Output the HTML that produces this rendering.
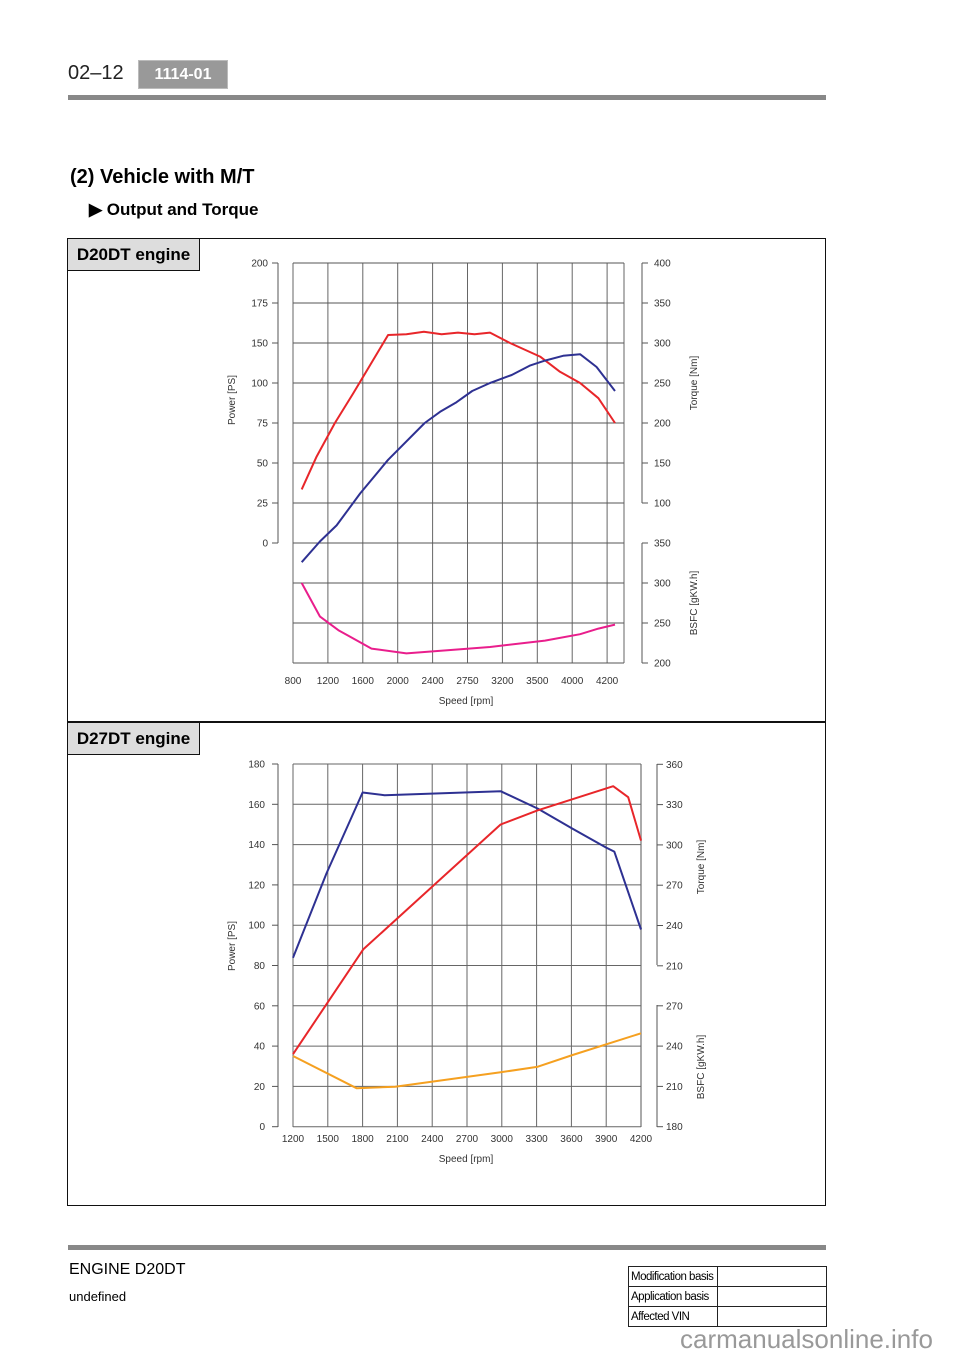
<!DOCTYPE html>
<html><head><meta charset="utf-8"><style>
body{margin:0;width:960px;height:1358px;background:#fff;position:relative;font-family:"Liberation Sans",sans-serif;overflow:hidden}
.a{position:absolute}
svg text{font-family:"Liberation Sans",sans-serif}
</style></head><body>
<div class="a" style="left:68px;top:62px;font-size:20px;color:#222">02‒12</div>
<div class="a" style="left:138px;top:60px;width:88px;height:27px;background:#999;border:1px solid #bbb;color:#fff;font-weight:bold;font-size:16px;line-height:27px;text-align:center">1114-01</div>
<div class="a" style="left:68px;top:95px;width:758px;height:5px;background:#888"></div>
<div class="a" style="left:70px;top:166px;font-size:20px;font-weight:bold">(2) Vehicle with M/T</div>
<div class="a" style="left:89px;top:200px;font-size:17px;font-weight:bold">▶ Output and Torque</div>
<div class="a" style="left:67px;top:238px;width:757px;height:966px;border:1.5px solid #111"></div>
<div class="a" style="left:67px;top:721px;width:759px;height:1.5px;background:#111"></div>
<div class="a" style="left:68px;top:239px;width:131px;height:31px;background:#ddd;border-right:1.5px solid #111;border-bottom:1.5px solid #111;font-weight:bold;font-size:17px;line-height:31px;text-align:center">D20DT engine</div>
<div class="a" style="left:68px;top:723px;width:131px;height:31px;background:#ddd;border-right:1.5px solid #111;border-bottom:1.5px solid #111;font-weight:bold;font-size:17px;line-height:31px;text-align:center">D27DT engine</div>
<div class="a" style="left:68px;top:1245px;width:758px;height:5px;background:#888"></div>
<div class="a" style="left:69px;top:1261px;font-size:16px">ENGINE D20DT</div>
<div class="a" style="left:69px;top:1289px;font-size:13px">undefined</div>
<table class="a" style="left:628px;top:1266px;width:199px;border-collapse:collapse;font-size:11.5px;letter-spacing:-0.5px">
<tr style="height:20px"><td style="border:1.5px solid #222;width:84px;padding:0 2px">Modification basis</td><td style="border:1.5px solid #222"></td></tr>
<tr style="height:20px"><td style="border:1.5px solid #222;padding:0 2px">Application basis</td><td style="border:1.5px solid #222"></td></tr>
<tr style="height:20px"><td style="border:1.5px solid #222;padding:0 2px">Affected VIN</td><td style="border:1.5px solid #222"></td></tr>
</table>
<div class="a" style="left:680px;top:1324px;font-size:26px;color:#999">carmanualsonline.info</div>
<svg id="s" class="a" style="left:0;top:0" width="960" height="1358"></svg>
<script>
// ---- D20DT data ----
const topSpeedTicks=[800,1200,1600,2000,2400,2750,3200,3500,4000,4200];
const topPowerTicks=[200,175,150,100,75,50,25,0];
const topTorqueTicks=[400,350,300,250,200,150,100];
const topBsfcTicks=[350,300,250,200];
const topTorqueRpm=[900,1070,1280,1490,1890,2100,2300,2490,2655,2840,3040,3265,3540,3825,4045,4150,4245];
const topTorqueVal=[117,158,200,237,310,311,314,311,313,311,313,300,283,264,250,231,200];
const topPowerRpm=[900,1110,1300,1570,1890,2310,2475,2640,2810,3040,3280,3440,3610,3870,4045,4140,4245];
const topPowerVal=[-12,1,11,31,52,75,82,88,95,100,105,111,114,117,118,110,95];
const topBsfcRpm=[900,1110,1320,1700,2100,3040,3610,4045,4150,4245];
const topBsfcVal=[300,258,241,218,212,220,228,236,243,248];
// ---- D27DT data ----
const botSpeedTicks=[1200,1500,1800,2100,2400,2700,3000,3300,3600,3900,4200];
const botPowerTicks=[180,160,140,120,100,80,60,40,20,0];
const botTorqueTicks=[360,330,300,270,240,210];
const botBsfcTicks=[270,240,210,180];
const botTorqueRpm=[1200,1490,1800,1990,2990,3310,3610,3900,3970,4200];
const botTorqueVal=[216,279,339,337,340,327,312,298,295,237];
const botPowerRpm=[1200,1805,2990,3310,3960,4090,4200];
const botPowerVal=[36,88,150,157,169,163.5,142];
const botBsfcRpm=[1200,1750,2080,2990,3310,3610,4200];
const botBsfcVal=[232.6,208.6,209.8,220.5,224.7,233.4,249.5];

const S=document.getElementById('s');const NS='http://www.w3.org/2000/svg';
function mk(t,a,txt){const e=document.createElementNS(NS,t);for(const k in a)e.setAttribute(k,a[k]);if(txt!==undefined)e.textContent=txt;S.appendChild(e);return e;}
function ln(x1,y1,x2,y2,c,w){return mk('line',{x1,y1,x2,y2,stroke:c,'stroke-width':w});}
function tx(x,y,t,anchor,rot){const a={x,y,'font-size':10,fill:'#333','text-anchor':anchor};if(rot)a.transform='rotate(-90 '+x+' '+y+')';return mk('text',a,t);}

// top axes
const tx0=293,tstep=34.9;
function xTop(r){const t=topSpeedTicks;let i=0;while(i<t.length-2&&r>t[i+1])i++;return tx0+(i+(r-t[i])/(t[i+1]-t[i]))*tstep;}
const yTopP=v=>543-v*1.6, yTopT=v=>263+(400-v)*0.8, yTopB=v=>543+(350-v)*0.8;
function yBotP(v){return 1126.7-v*2.015;}function yBotT(v){return 764.3+(360-v)*40.3/30;}function yBotB(v){return 1126.7-(v-180)*40.3/30;}
function xBot(r){return 293+(r-1200)*348/3000;}

// top grid
for(let i=0;i<topSpeedTicks.length;i++){const x=tx0+i*tstep;const g=ln(x,263,x,663,'#666',1);

const l=tx(x,684,String(topSpeedTicks[i]),'middle');}
ln(624,263,624,663,'#666',1);
for(let k=0;k<11;k++){const y=263+k*40;const g=ln(293,y,624,y,'#555',1);}
ln(278,263,278,543,'#555',1);
topPowerTicks.forEach((v,i)=>{const y=263+i*40;ln(272,y,278,y,'#555',1);const l=tx(268,y+3.5,String(v),'end');});
ln(642,263,642,503,'#555',1);
topTorqueTicks.forEach(v=>{const y=yTopT(v);ln(642,y,648,y,'#555',1);const l=tx(654,y+3.5,String(v),'start');});
ln(642,543,642,663,'#555',1);
topBsfcTicks.forEach(v=>{const y=yTopB(v);ln(642,y,648,y,'#555',1);const l=tx(654,y+3.5,String(v),'start');});
let t;
t=tx(235,400,'Power [PS]','middle',1);
t=tx(697,383,'Torque [Nm]','middle',1);
t=tx(697,603,'BSFC [gKW.h]','middle',1);
t=tx(466,704,'Speed [rpm]','middle');

// bottom grid
botSpeedTicks.forEach(r=>{const x=xBot(r);const g=ln(x,764,x,1127,r===4200?'#aaa':'#666',r===4200?2:1);
const l=tx(x,1142,String(r),'middle');});
botPowerTicks.forEach(v=>{const y=yBotP(v);const g=ln(293,y,641,y,'#666',1);
ln(272,y,278,y,'#555',1);const l=tx(265,y+3.5,String(v),'end');});
ln(278,764,278,1127,'#555',1);
ln(657,764,657,965,'#555',1);
botTorqueTicks.forEach(v=>{const y=yBotT(v);ln(657,y,663,y,'#555',1);const l=tx(666,y+3.5,String(v),'start');});
ln(657,1005,657,1127,'#555',1);
botBsfcTicks.forEach(v=>{const y=yBotB(v);ln(657,y,663,y,'#555',1);const l=tx(666,y+3.5,String(v),'start');});
t=tx(235,946,'Power [PS]','middle',1);
t=tx(704,867,'Torque [Nm]','middle',1);
t=tx(704,1067,'BSFC [gKW.h]','middle',1);
t=tx(466,1162,'Speed [rpm]','middle');

function series(xs,ys,fx,fy,c){return mk('polyline',{points:xs.map((r,i)=>fx(r).toFixed(1)+','+fy(ys[i]).toFixed(1)).join(' '),fill:'none',stroke:c,'stroke-width':2,'stroke-linejoin':'round'});}
let p;
p=series(topTorqueRpm,topTorqueVal,xTop,yTopT,'#e8262a');
p=series(topPowerRpm,topPowerVal,xTop,yTopP,'#2e3192');
p=series(topBsfcRpm,topBsfcVal,xTop,yTopB,'#e91e8c');
p=series(botTorqueRpm,botTorqueVal,xBot,yBotT,'#2e3192');
p=series(botPowerRpm,botPowerVal,xBot,yBotP,'#e8262a');
p=series(botBsfcRpm,botBsfcVal,xBot,yBotB,'#f5a020');
</script>
</body></html>
